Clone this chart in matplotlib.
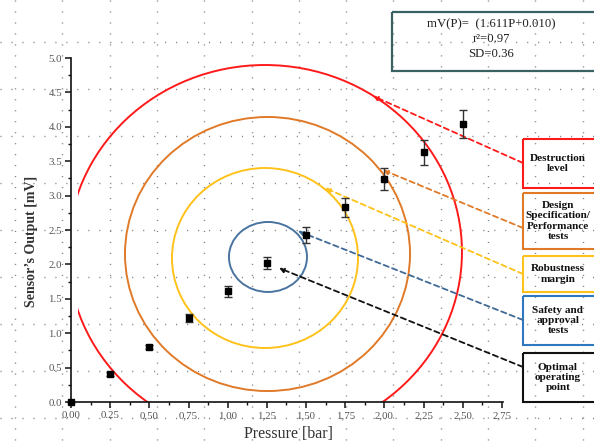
import numpy as np
import matplotlib
matplotlib.use("Agg")
import matplotlib.pyplot as plt
from matplotlib.patches import Ellipse, Rectangle
from matplotlib.ticker import MultipleLocator

plt.rcParams['font.family'] = ['Liberation Serif', 'DejaVu Serif']

# ---------------- data ----------------
pressure = [0.0, 0.25, 0.50, 0.75, 1.00, 1.25, 1.50, 1.75, 2.00, 2.25, 2.50]
output_mv = [0.0, 0.41, 0.80, 1.22, 1.61, 2.02, 2.43, 2.83, 3.24, 3.63, 4.04]
output_err = [0.0, 0.03, 0.03, 0.06, 0.08, 0.09, 0.12, 0.14, 0.16, 0.18, 0.20]

x_ticks = [0.0, 0.25, 0.5, 0.75, 1.0, 1.25, 1.5, 1.75, 2.0, 2.25, 2.5, 2.75]
x_tick_labels = ["0.00", "0.25", "0,50", "0,75", "1,00", "1,25", "1,50",
                 "1,75", "2,00", "2,25", "2,50", "2,75"]
y_ticks = [0.0, 0.5, 1.0, 1.5, 2.0, 2.5, 3.0, 3.5, 4.0, 4.5, 5.0]
y_tick_labels = ["0.0", "0.5", "1.0", "1.5", "2.0", "2.5", "3.0", "3.5",
                 "4.0", "4.5", "5.0"]

# zones: (center x [bar], center y [mV], width [bar], height [mV])
zone_names = ["Destruction\nlevel",
              "Design\nSpecification/\nPerformance\ntests",
              "Robustness\nmargin",
              "Safety and\napproval\ntests",
              "Optimal\noperating\npoint"]
zone_cx = [1.238, 1.254, 1.238, 1.257]
zone_cy = [2.18, 2.151, 2.093, 2.108]
zone_w = [2.514, 1.819, 1.187, 0.498]
zone_h = [5.436, 3.983, 2.616, 1.017]
zone_colors = ["#ff1a1a", "#e07a28", "#ffc21a", "#4a74a0"]
box_colors = ["#ff1a1a", "#e07a28", "#ffc21a", "#2e78c0", "#111111"]
line_colors = ["#ff1a1a", "#e07a28", "#ffc21a", "#3f6a96", "#111111"]
# arrow tips (data) and box boundaries (pixels)
tip_x = [1.927, 1.991, 1.621, 1.449, 1.327]
tip_y = [4.448, 3.372, 3.110, 2.485, 1.948]
end_py = [163, 228, 274, 320, 367]
box_top = [139, 193, 256, 296, 353]
box_bot = [188, 249, 292, 345, 402]

fit_text = "mV(P)=  (1.611P+0.010)\nr\u00b2=0.97\nSD=0.36"

# ---------------- figure ----------------
W, H = 594, 442
fig = plt.figure(figsize=(W / 100, H / 100), dpi=100)
bg = fig.add_axes([0, 0, 1, 1], zorder=0)
bg.set_xlim(0, W)
bg.set_ylim(H, 0)
bg.axis('off')

# dotted background page grid
gx = np.arange(15, W, 47.3)
gy = np.arange(42 - 47, H, 47)
bg.vlines(gx, 0, H, colors='#808080', linewidth=1.0, linestyles=(0, (0.8, 7.1)))
bg.hlines(gy, 0, W, colors='#808080', linewidth=1.0, linestyles=(0, (0.8, 7.1)))

px_per_bar = 156.7
ax = fig.add_axes([71 / W, 40 / H, 432 / W, 344 / H], zorder=1)
ax.patch.set_alpha(0)
ax.set_xlim(0, 432 / px_per_bar)
ax.set_ylim(0, 5.0)

for s in ['top', 'right']:
    ax.spines[s].set_visible(False)
for s in ['left', 'bottom']:
    ax.spines[s].set_linewidth(1.2)
    ax.spines[s].set_color('#111111')

ax.set_xticks(x_ticks, labels=x_tick_labels)
ax.set_yticks(y_ticks, labels=y_tick_labels)
ax.xaxis.set_minor_locator(MultipleLocator(0.125))
ax.yaxis.set_minor_locator(MultipleLocator(0.25))
ax.tick_params(which='major', direction='out', length=4.5, width=1.1,
               color='#111111', labelsize=7.8, labelcolor='#555555', pad=2)
ax.tick_params(which='minor', direction='out', length=2.5, width=1.0,
               color='#111111')

# zones
for i in range(4):
    e = Ellipse((zone_cx[i], zone_cy[i]), zone_w[i], zone_h[i], fill=False,
                edgecolor=zone_colors[i], linewidth=1.4, zorder=2)
    ax.add_patch(e)
    if i == 0:
        clip = Rectangle((0.045, 0), 3.0, 6.0, transform=ax.transData)
        e.set_clip_path(clip)

# data with error bars
ax.errorbar(pressure, output_mv, yerr=output_err, fmt='s', color='black',
            markersize=5, ecolor='#333333', elinewidth=1.0, capsize=3,
            capthick=1.0, zorder=4, clip_on=False)

# leader lines
for i in range(5):
    ax.annotate('', xy=(tip_x[i], tip_y[i]), xycoords='data',
                xytext=(523, end_py[i]), textcoords=bg.transData,
                arrowprops=dict(arrowstyle='-|>', linestyle=(0, (3, 2)),
                                color=line_colors[i], lw=1.3,
                                mutation_scale=7, shrinkA=0, shrinkB=0),
                annotation_clip=False, zorder=3)

# labelled boxes
for i in range(5):
    bg.add_patch(Rectangle((523, box_top[i]), 80, box_bot[i] - box_top[i],
                           fill=False, edgecolor=box_colors[i],
                           linewidth=1.5, zorder=2))
    bg.text(558, (box_top[i] + box_bot[i]) / 2, zone_names[i], ha='center',
            va='center', fontsize=8.1, fontweight='bold', color='#111111',
            linespacing=1.15, zorder=3)

# fit box
bg.add_patch(Rectangle((392, 12), 215, 59, fill=False, edgecolor='#3b6262',
                       linewidth=1.6, zorder=2))
bg.text(491, 39, fit_text, ha='center', va='center', fontsize=9.2,
        color='#222222', linespacing=1.3, zorder=3)

# axis labels
bg.text(288, 434, "Pressure [bar]", ha='center', va='center', fontsize=11.5,
        color='#333333')
bg.text(32, 241, "Sensor\u2019s Output [mV]", ha='center', va='center',
        rotation=90, fontsize=10, fontweight='bold', color='#333333')

fig.savefig("out.png", dpi=100)
